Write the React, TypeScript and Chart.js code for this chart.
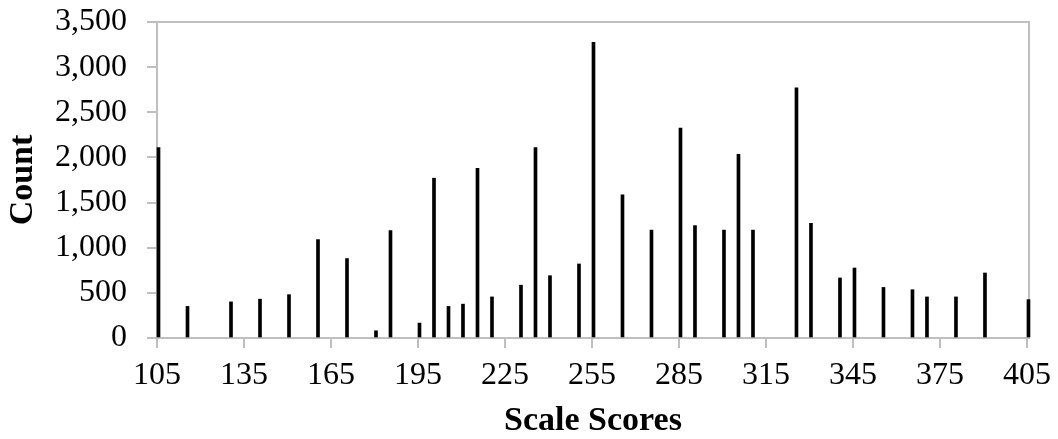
import React, { useEffect, useRef } from 'react';
import { Chart, registerables } from 'chart.js';

Chart.register(...registerables);

const scaleScores = [105, 115, 130, 140, 150, 160, 170, 180, 185, 195, 200, 205, 210, 215, 220, 230, 235, 240, 250, 255, 265, 275, 285, 290, 300, 305, 310, 325, 330, 340, 345, 355, 365, 370, 380, 390, 405];
const counts = [2110, 350, 400, 430, 480, 1090, 880, 80, 1190, 165, 1770, 350, 375, 1880, 455, 585, 2110, 690, 820, 3275, 1585, 1195, 2325, 1245, 1195, 2035, 1195, 2770, 1270, 665, 775, 560, 535, 455, 455, 720, 425];
const xTickValues = [105, 135, 165, 195, 225, 255, 285, 315, 345, 375, 405];
const yTickValues = [0, 500, 1000, 1500, 2000, 2500, 3000, 3500];

const GREY = '#BFBFBF';
const FONT = 'Liberation Serif';

const framePlugin = {
  id: 'frame',
  beforeDatasetsDraw(chart: any) {
    const { ctx, chartArea } = chart;
    ctx.save();
    ctx.strokeStyle = GREY;
    ctx.lineWidth = 2;
    ctx.strokeRect(chartArea.left, chartArea.top, chartArea.right - chartArea.left, chartArea.bottom - chartArea.top);
    ctx.restore();
    // bars are drawn with their left edge at the score value
    ctx.save();
    ctx.translate(1.5, 0);
  },
  afterDatasetsDraw(chart: any) {
    chart.ctx.restore();
  },
};

export default function App() {
  const canvasRef = useRef<HTMLCanvasElement | null>(null);

  useEffect(() => {
    if (!canvasRef.current) return;
    const chart = new Chart(canvasRef.current, {
      type: 'bar',
      data: {
        datasets: [
          {
            data: scaleScores.map((x, i) => ({ x, y: counts[i] })),
            backgroundColor: '#000000',
            borderWidth: 0,
            barThickness: 3,
            grouped: false,
            clip: false as any,
          },
        ],
      },
      options: {
        responsive: false,
        animation: false,
        devicePixelRatio: 1,
        layout: { padding: { left: 0, top: 22, right: 29, bottom: 0 } },
        plugins: { legend: { display: false }, tooltip: { enabled: false } },
        scales: {
          x: {
            type: 'linear',
            offset: false,
            min: 105,
            max: 405.7,
            afterBuildTicks: (scale: any) => {
              scale.ticks = xTickValues.map((v) => ({ value: v }));
            },
            afterFit: (scale: any) => {
              scale.height = 101;
              scale.paddingLeft = 0;
              scale.paddingRight = 0;
            },
            grid: { display: true, offset: false, drawOnChartArea: false, drawTicks: true, tickLength: 10, color: GREY, lineWidth: 2 },
            border: { display: true, color: GREY, width: 2 },
            ticks: {
              autoSkip: false,
              maxRotation: 0,
              minRotation: 0,
              padding: 8,
              color: '#000000',
              font: { family: FONT, size: 32 },
              callback: (v: any) => String(v),
            },
            title: {
              display: true,
              text: 'Scale Scores',
              color: '#000000',
              font: { family: FONT, size: 34, weight: 'bold', lineHeight: 1 },
              padding: { top: 0, bottom: 1 },
            },
          },
          y: {
            type: 'linear',
            min: 0,
            max: 3500,
            afterBuildTicks: (scale: any) => {
              scale.ticks = yTickValues.map((v) => ({ value: v }));
            },
            afterFit: (scale: any) => {
              scale.width = 157;
              scale.paddingTop = 0;
              scale.paddingBottom = 0;
            },
            grid: { display: true, drawOnChartArea: false, drawTicks: true, tickLength: 10, color: GREY, lineWidth: 2 },
            border: { display: true, color: GREY, width: 2 },
            ticks: {
              padding: 20,
              color: '#000000',
              font: { family: FONT, size: 32 },
              callback: (v: any) => Number(v).toLocaleString('en-US'),
            },
            title: {
              display: true,
              text: 'Count',
              color: '#000000',
              font: { family: FONT, size: 34, weight: 'bold', lineHeight: 1 },
              padding: { top: 6, bottom: 0 },
            },
          },
        },
      },
      plugins: [framePlugin],
    });
    return () => chart.destroy();
  }, []);

  return (
    <div style={{ position: 'fixed', left: 0, top: 0, width: 1058, height: 439, background: '#ffffff' }}>
      <canvas ref={canvasRef} width={1058} height={439} />
    </div>
  );
}
